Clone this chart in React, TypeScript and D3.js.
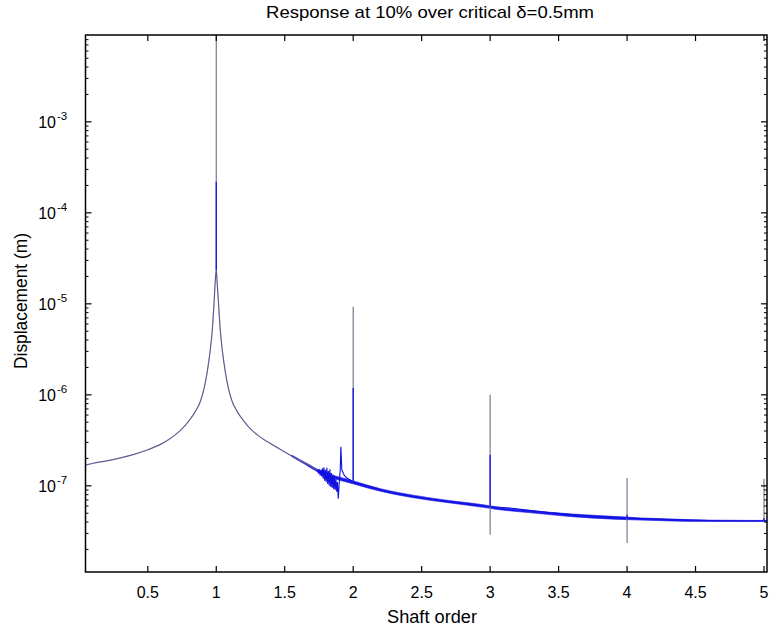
import React from 'react';
import * as d3 from 'd3';

// Baseline response curve
const curveX = [0.05, 0.1, 0.2, 0.3, 0.4, 0.5, 0.6, 0.65, 0.7, 0.75, 0.8, 0.85, 0.883, 0.912, 0.934, 0.956, 0.971, 0.985, 0.993, 1.0, 1.006, 1.015, 1.029, 1.044, 1.066, 1.088, 1.117, 1.15, 1.2, 1.25, 1.3, 1.35, 1.4, 1.5, 1.6, 1.7, 1.737];
const curveY = [1.7e-7, 1.77e-7, 1.88e-7, 2.03e-7, 2.22e-7, 2.49e-7, 2.89e-7, 3.2e-7, 3.63e-7, 4.23e-7, 5.18e-7, 6.67e-7, 8.4e-7, 1.19e-6, 1.79e-6, 3.1e-6, 5.2e-6, 1.1e-5, 1.84e-5, 2.36e-5, 1.75e-5, 1.1e-5, 5.2e-6, 3.1e-6, 1.79e-6, 1.19e-6, 8.4e-7, 6.67e-7, 5.18e-7, 4.23e-7, 3.63e-7, 3.2e-7, 2.89e-7, 2.36e-7, 1.93e-7, 1.62e-7, 1.47e-7];

// Noisy part before 2x and the tail after it
const noiseX = [1.737, 1.742, 1.748, 1.753, 1.759, 1.764, 1.77, 1.775, 1.781, 1.786, 1.792, 1.797, 1.803, 1.808, 1.814, 1.819, 1.825, 1.83, 1.836, 1.841, 1.847, 1.852, 1.858, 1.863, 1.869, 1.874, 1.88, 1.885, 1.891, 1.9, 1.905, 1.91, 1.917, 1.935, 1.954, 1.99, 2.015, 2.197, 2.438, 2.686, 2.927, 3.146, 3.438, 3.679, 3.927, 4.168, 4.409, 4.657, 4.949, 5.02];
const noiseY = [1.47e-7, 1.49e-7, 1.36e-7, 1.52e-7, 1.3e-7, 1.5e-7, 1.27e-7, 1.56e-7, 1.2e-7, 1.6e-7, 1.14e-7, 1.5e-7, 1.1e-7, 1.58e-7, 1.05e-7, 1.45e-7, 1.0e-7, 1.52e-7, 9.7e-8, 1.38e-7, 9.5e-8, 1.32e-7, 9.2e-8, 1.25e-7, 9.0e-8, 1.18e-7, 8.6e-8, 1.1e-7, 7.2e-8, 1.2e-7, 1.45e-7, 2.68e-7, 1.5e-7, 1.3e-7, 1.22e-7, 1.13e-7, 1.08e-7, 9.0e-8, 7.6e-8, 6.7e-8, 6.0e-8, 5.7e-8, 5.05e-8, 4.7e-8, 4.45e-8, 4.34e-8, 4.23e-8, 4.13e-8, 4.13e-8, 4.13e-8];

// Thickness of the noisy blue band
const bandX = [1.55, 1.65, 1.74, 2.01, 2.2, 2.45, 2.7, 2.95, 3.05, 3.3, 3.6, 3.9, 4.1, 4.3, 4.6, 4.9, 5.02];
const bandHi = [2.18e-7, 1.8e-7, 1.52e-7, 1.12e-7, 9.3e-8, 7.85e-8, 6.9e-8, 6.2e-8, 5.85e-8, 5.35e-8, 4.9e-8, 4.62e-8, 4.44e-8, 4.33e-8, 4.2e-8, 4.17e-8, 4.17e-8];
const bandLo = [2.1e-7, 1.72e-7, 1.42e-7, 1.04e-7, 8.7e-8, 7.35e-8, 6.5e-8, 5.8e-8, 5.5e-8, 5.05e-8, 4.58e-8, 4.3e-8, 4.2e-8, 4.12e-8, 4.06e-8, 4.05e-8, 4.06e-8];

// Harmonic spikes
const spikeX = [1, 2, 3, 4, 5];
const greyTop = [2e-2, 9.3e-6, 1.0e-6, 1.22e-7, 1.2e-7];
const greyBottom = [2.36e-5, 1.1e-7, 2.9e-8, 2.36e-8, 4.1e-8];
const blueTop = [2.2e-4, 1.19e-6, 2.19e-7, 4.8e-8, 4.4e-8];
const blueBottom = [2.36e-5, 1.1e-7, 5.9e-8, 4.3e-8, 4.1e-8];

const xTicks = [0.5, 1, 1.5, 2, 2.5, 3, 3.5, 4, 4.5, 5];
const xTickLabels = ['0.5', '1', '1.5', '2', '2.5', '3', '3.5', '4', '4.5', '5'];
const yExponents = [-7, -6, -5, -4, -3];

const W = 772, H = 630;
const L = 85.5, R = 767, T = 35, B = 572;
const FONT = 'Liberation Sans, Arial, sans-serif';

export default function App() {
  const x = d3.scaleLinear().domain([0.045, 5.022]).range([L, R]);
  const y = d3.scaleLog().domain([1.13e-8, 9.0e-3]).range([B, T]);

  const smooth = d3.line<[number, number]>().x(d => x(d[0])).y(d => y(d[1])).curve(d3.curveMonotoneX);
  const line = d3.line<[number, number]>().x(d => x(d[0])).y(d => y(d[1]));
  const curve = curveX.map((v, i) => [v, curveY[i]] as [number, number]);
  const noise = noiseX.map((v, i) => [v, noiseY[i]] as [number, number]);
  const area = d3.area<number>()
    .x((_, i) => x(bandX[i]))
    .y0((_, i) => y(bandLo[i]))
    .y1((_, i) => y(bandHi[i]))
    .curve(d3.curveMonotoneX);

  const minor: number[] = [];
  for (let d = -8; d <= -3; d++) {
    for (let m = 2; m <= 9; m++) {
      const v = m * Math.pow(10, d);
      if (v > 1.13e-8 && v < 9e-3) minor.push(v);
    }
  }

  return (
    <svg width={W} height={H} style={{ position: 'absolute', left: 0, top: 0, background: '#fff' }} fontFamily={FONT}>
      <defs>
        <clipPath id="plot"><rect x={L} y={T} width={R - L} height={B - T} /></clipPath>
      </defs>
      <rect x={0} y={0} width={W} height={H} fill="#fff" />
      <text x={430} y={18} textAnchor="middle" fontSize={17} textLength={328} lengthAdjust="spacingAndGlyphs">Response at 10% over critical δ=0.5mm</text>

      <g clipPath="url(#plot)">
        <path d={area(bandX) || ''} fill="#1a1ae6" stroke="#1a1ae6" strokeWidth={0.6} />
        <path d={smooth(curve) || ''} fill="none" stroke="#70708a" strokeWidth={1.2} />
        <path d={smooth(curve) || ''} fill="none" stroke="#2a2ad0" strokeWidth={0.7} strokeOpacity={0.4} />
        <path d={line(noise) || ''} fill="none" stroke="#1010e0" strokeWidth={1.1} />
        {spikeX.map((s, i) => (
          <line key={'g' + i} x1={x(s)} x2={x(s)} y1={y(greyBottom[i])} y2={y(greyTop[i])} stroke="#7a7a92" strokeWidth={1.2} />
        ))}
        {spikeX.map((s, i) => (
          <line key={'b' + i} x1={x(s)} x2={x(s)} y1={y(blueBottom[i])} y2={y(blueTop[i])} stroke="#1010ee" strokeWidth={1.3} />
        ))}
      </g>

      {/* frame */}
      <rect x={L} y={T} width={R - L} height={B - T} fill="none" stroke="#000" strokeWidth={1.5} />

      {/* x ticks */}
      {xTicks.map((t, i) => (
        <g key={'xt' + i}>
          <line x1={x(t)} x2={x(t)} y1={B} y2={B - 6} stroke="#000" strokeWidth={1.2} />
          <line x1={x(t)} x2={x(t)} y1={T} y2={T + 6} stroke="#000" strokeWidth={1.2} />
          <text x={x(t)} y={598} textAnchor="middle" fontSize={16}>{xTickLabels[i]}</text>
        </g>
      ))}

      {/* y ticks */}
      {yExponents.map(e => {
        const yy = y(Math.pow(10, e));
        return (
          <g key={'ye' + e}>
            <line x1={L} x2={L + 6} y1={yy} y2={yy} stroke="#000" strokeWidth={1.2} />
            <line x1={R} x2={R - 6} y1={yy} y2={yy} stroke="#000" strokeWidth={1.2} />
            <text x={56} y={yy + 6} textAnchor="end" fontSize={16}>10</text>
            <text x={57} y={yy - 2} textAnchor="start" fontSize={11.5}>{String(e)}</text>
          </g>
        );
      })}
      {minor.map((v, i) => (
        <g key={'mn' + i}>
          <line x1={L} x2={L + 3} y1={y(v)} y2={y(v)} stroke="#000" strokeWidth={1} />
          <line x1={R} x2={R - 3} y1={y(v)} y2={y(v)} stroke="#000" strokeWidth={1} />
        </g>
      ))}

      <text x={432} y={623} textAnchor="middle" fontSize={17.5} textLength={90} lengthAdjust="spacingAndGlyphs">Shaft order</text>
      <text transform={`translate(27,301) rotate(-90)`} textAnchor="middle" fontSize={17.5} textLength={136} lengthAdjust="spacingAndGlyphs">Displacement (m)</text>
    </svg>
  );
}
